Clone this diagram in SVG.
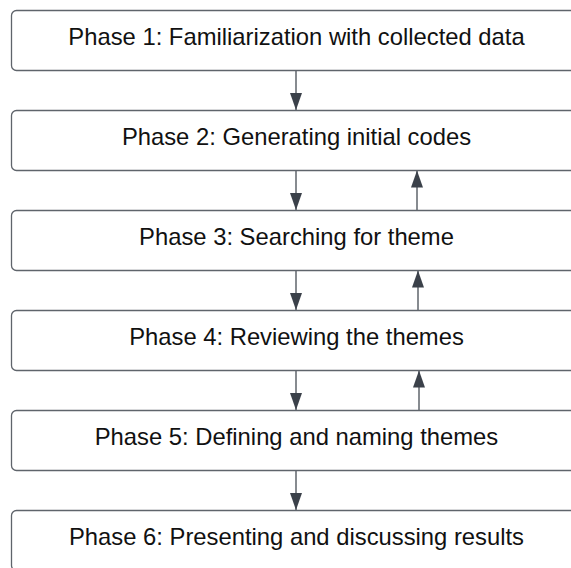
<svg xmlns="http://www.w3.org/2000/svg" width="571" height="568" viewBox="0 0 571 568">
  <style>
    .box { fill: #ffffff; stroke: #5f646b; stroke-width: 1.3; }
    .label { font-family: "Liberation Sans", Arial, sans-serif; font-size: 23.8px; fill: #111111; text-anchor: middle; }
    .link { stroke: #5f646b; stroke-width: 1.5; fill: none; marker-end: url(#head); }
  </style>
  <defs>
    <!-- filled triangular arrowhead, 17 long by 12 wide -->
    <marker id="head" viewBox="0 0 17 12" refX="17" refY="6" markerWidth="17" markerHeight="12" markerUnits="userSpaceOnUse" orient="auto">
      <path d="M0,0 L17,6 L0,12 Z" fill="#3b414a"/>
    </marker>
  </defs>
  <rect width="571" height="568" fill="#ffffff"/>

  <g id="connectors">
    <line class="link" x1="296" y1="70.5" x2="296" y2="110"/>
    <line class="link" x1="296" y1="170.5" x2="296" y2="210"/>
    <line class="link" x1="296" y1="270.5" x2="296" y2="310"/>
    <line class="link" x1="296" y1="370.5" x2="296" y2="410"/>
    <line class="link" x1="296" y1="470.5" x2="296" y2="510"/>
    <line class="link" x1="417" y1="210" x2="417" y2="170.5"/>
    <line class="link" x1="418" y1="310" x2="418" y2="270.5"/>
    <line class="link" x1="419" y1="410" x2="419" y2="370.5"/>
  </g>

  <g id="phase1">
    <rect class="box" x="11.5" y="10.5" width="570" height="60" rx="5"/>
    <text class="label" x="296.5" y="45">Phase 1: Familiarization with collected data</text>
  </g>
  <g id="phase2">
    <rect class="box" x="11.5" y="110.5" width="570" height="60" rx="5"/>
    <text class="label" x="296.5" y="145">Phase 2: Generating initial codes</text>
  </g>
  <g id="phase3">
    <rect class="box" x="11.5" y="210.5" width="570" height="60" rx="5"/>
    <text class="label" x="296.5" y="245">Phase 3: Searching for theme</text>
  </g>
  <g id="phase4">
    <rect class="box" x="11.5" y="310.5" width="570" height="60" rx="5"/>
    <text class="label" x="296.5" y="345">Phase 4: Reviewing the themes</text>
  </g>
  <g id="phase5">
    <rect class="box" x="11.5" y="410.5" width="570" height="60" rx="5"/>
    <text class="label" x="296.5" y="445">Phase 5: Defining and naming themes</text>
  </g>
  <g id="phase6">
    <rect class="box" x="11.5" y="510.5" width="570" height="60" rx="5"/>
    <text class="label" x="296.5" y="545">Phase 6: Presenting and discussing results</text>
  </g>
</svg>
